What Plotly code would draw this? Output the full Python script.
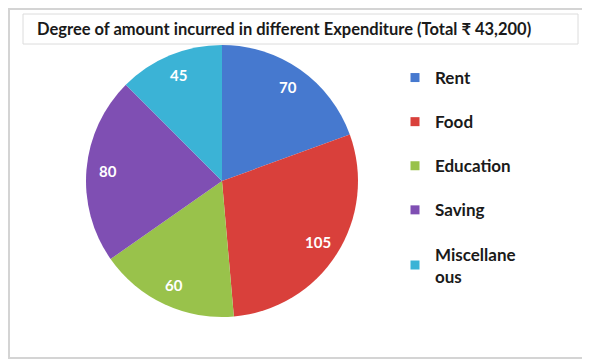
"""Pie chart: degree of amount incurred in different expenditure"""
import math
import plotly.graph_objects as go

# page is drawn with an 8px body margin, so the figure is 8px smaller and
# all reference pixel positions are shifted by 8
W, H = 582, 352
OFF = 8


def px(x):
    return (x - OFF) / W


def py(y):
    return 1 - (y - OFF) / H


categories = ['Rent', 'Food', 'Education', 'Saving', 'Miscellaneous']
legend_labels = ['Rent', 'Food', 'Education', 'Saving', 'Miscellane<br>ous']
degrees = [70, 105, 60, 80, 45]
colours = ['#4679cf', '#d9403b', '#99c24b', '#7f4fb3', '#3bb3d6']

title = 'Degree of amount incurred in different Expenditure (Total ₹ 43,200)'
font_family = 'Lato, "Open Sans", sans-serif'

# pie placement (reference pixels)
cx, cy, radius = 222, 181, 136

fig = go.Figure()

fig.add_trace(go.Pie(
    labels=categories,
    values=degrees,
    sort=False,
    direction='clockwise',
    rotation=0,
    marker=dict(colors=colours, line=dict(color='white', width=0)),
    textinfo='none',
    showlegend=False,
    domain=dict(x=[px(cx - radius), px(cx + radius)],
                y=[py(cy + radius), py(cy - radius)]),
    hoverinfo='label+value',
))

# value labels sit near the rim like in Excel
start = 0
total = sum(degrees)
for v in degrees:
    mid = math.radians((start + v / 2) / total * 360)
    start += v
    r = 0.84 * radius
    fig.add_annotation(
        text=str(v), xref='paper', yref='paper',
        x=px(cx + r * math.sin(mid)), y=py(cy - r * math.cos(mid)),
        showarrow=False, xanchor='center', yanchor='middle',
        font=dict(size=15, color='white', family=font_family, weight='bold'),
    )

# legend entries as dummy traces so the gap between items can be set
for name, colour in zip(legend_labels, colours):
    fig.add_trace(go.Scatter(
        x=[None], y=[None], mode='markers', name=name,
        marker=dict(symbol='square', size=9, color=colour),
        legendgroup=name,
    ))

# outer frame (right edge runs off the page) and title box
fig.add_shape(type='rect', xref='paper', yref='paper',
              x0=px(9), x1=px(593), y0=py(358), y1=py(9),
              line=dict(color='#d4d4d4', width=2), fillcolor='rgba(0,0,0,0)')
fig.add_shape(type='rect', xref='paper', yref='paper',
              x0=px(23), x1=px(578), y0=py(44), y1=py(14),
              line=dict(color='#dcdcdc', width=1), fillcolor='rgba(0,0,0,0)')

fig.add_annotation(
    text=title, xref='paper', yref='paper', x=px(35), y=py(29),
    xanchor='left', yanchor='middle', showarrow=False,
    font=dict(size=16.5, color='#1a1a1a', family=font_family, weight='bold'),
)

fig.update_layout(
    width=W, height=H,
    margin=dict(l=0, r=0, t=0, b=0),
    paper_bgcolor='white',
    plot_bgcolor='white',
    xaxis=dict(visible=False),
    yaxis=dict(visible=False),
    legend=dict(
        x=px(395), y=py(60), xanchor='left', yanchor='top',
        font=dict(size=17, color='#1a1a1a', family=font_family, weight='bold'),
        tracegroupgap=19,
        itemwidth=30,
        bgcolor='rgba(0,0,0,0)',
    ),
)

fig.write_html('out.html')
